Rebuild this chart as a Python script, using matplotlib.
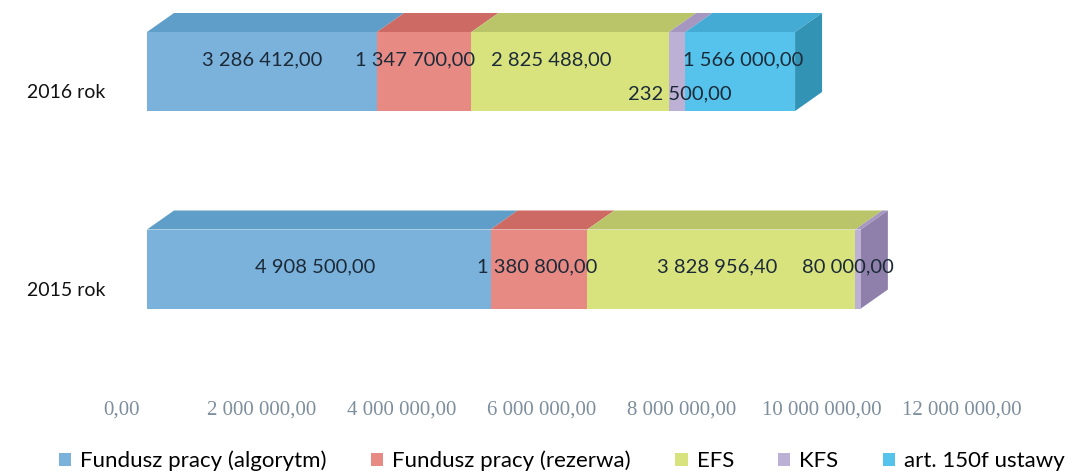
import numpy as np
import matplotlib
matplotlib.use("Agg")
from matplotlib import pyplot as plt
from matplotlib.patches import Polygon, Patch
from matplotlib.transforms import ScaledTranslation

plt.rcParams['font.family'] = ['Lato', 'DejaVu Sans']

years = ['2015 rok', '2016 rok']
series = ['Fundusz pracy (algorytm)', 'Fundusz pracy (rezerwa)', 'EFS', 'KFS', 'art. 150f ustawy']
algorytm = [4908500.00, 3286412.00]
rezerwa = [1380800.00, 1347700.00]
efs = [3828956.40, 2825488.00]
kfs = [80000.00, 232500.00]
art150f = [0.00, 1566000.00]
x_ticks = [0, 2000000, 4000000, 6000000, 8000000, 10000000, 12000000]

values = np.array([algorytm, rezerwa, efs, kfs, art150f])

front = ['#7bb2dc', '#e88a84', '#d9e37e', '#bdb0d5', '#55c3ec']
top = ['#5f9ec9', '#cc6a63', '#bac56a', '#a597c0', '#44acd4']
side = ['#4e8cb8', '#b35a54', '#a3ad5c', '#8e80aa', '#3393b5']

W, H = 1074, 472
fig = plt.figure(figsize=(W / 100, H / 100), dpi=100)
ax = fig.add_axes([147 / W, (H - 380) / H, 840 / W, 380 / H])
ax.set_xlim(0, 12000000)
ax.set_ylim(-0.562, 1.362)

bar_h = 0.4
# depth of the fake 3d box in pixels, converted to data units
dx = 27 * 12000000 / 840
dy = 19 * (1.362 + 0.562) / 380

y = np.arange(len(years))
left = np.zeros(len(years))
for i, name in enumerate(series):
    ax.barh(y, values[i], left=left, height=bar_h, color=front[i], edgecolor='none', zorder=3)
    for j in range(len(years)):
        if values[i][j] <= 0:
            continue
        l, r = left[j], left[j] + values[i][j]
        yt = y[j] + bar_h / 2
        ax.add_patch(Polygon([(l, yt), (r, yt), (r + dx, yt + dy), (l + dx, yt + dy)],
                             closed=True, facecolor=top[i], edgecolor='none', zorder=2))
    left = left + values[i]

# right side face of each bar (last non-zero segment)
for j in range(len(years)):
    last = max(i for i in range(len(series)) if values[i][j] > 0)
    r = values[:, j].sum()
    yb, yt = y[j] - bar_h / 2, y[j] + bar_h / 2
    ax.add_patch(Polygon([(r, yb), (r + dx, yb + dy), (r + dx, yt + dy), (r, yt)],
                         closed=True, facecolor=side[last], edgecolor='none', zorder=2))

def fmt(v):
    s = '{:,.2f}'.format(v)
    return s.replace(',', ' ').replace('.', ',')

# label nudges in pixels (dx, dy), as placed in the original
nudge = {(0, 1): (0, 12), (1, 1): (-9, 12), (2, 1): (-19, 12), (3, 1): (3, -22), (4, 1): (3, 12),
         (0, 0): (-4, 2), (1, 0): (-2, 2), (2, 0): (-4, 2), (3, 0): (-10, 2)}
left = np.zeros(len(years))
for i in range(len(series)):
    for j in range(len(years)):
        v = values[i][j]
        if v > 0:
            ox, oy = nudge.get((i, j), (0, 0))
            ax.annotate(fmt(v), (left[j] + v / 2, y[j]), xytext=(ox * 0.72, oy * 0.72),
                        textcoords='offset points', ha='center', va='center',
                        fontsize=14.5, color='#1c2a38', zorder=5)
    left = left + values[i]

ax.set_xticks(x_ticks)
ax.set_xticklabels(['0,00'] + [fmt(t) for t in x_ticks[1:]], family='Liberation Serif',
                   fontsize=15, color='#7d8e9c')
ax.tick_params(axis='x', length=0, pad=15)
for lab in ax.get_xticklabels():
    lab.set_transform(lab.get_transform() + ScaledTranslation(-0.25, 0, fig.dpi_scale_trans))

ax.set_yticks(y)
ax.set_yticklabels(years, fontsize=14, color='#111111')
ax.tick_params(axis='y', length=0, pad=30)
for lab in ax.get_yticklabels():
    lab.set_transform(lab.get_transform() + ScaledTranslation(0, -0.195, fig.dpi_scale_trans))

for s in ax.spines.values():
    s.set_visible(False)

handles = [Patch(facecolor=front[i], edgecolor='none') for i in range(len(series))]
fig.legend(handles, series, loc='center', bbox_to_anchor=(562 / W, 11 / H), ncol=5,
           frameon=False, fontsize=16, handlelength=0.55, handleheight=0.55,
           handletextpad=0.4, columnspacing=2.0)

fig.savefig('out.png', dpi=100)
